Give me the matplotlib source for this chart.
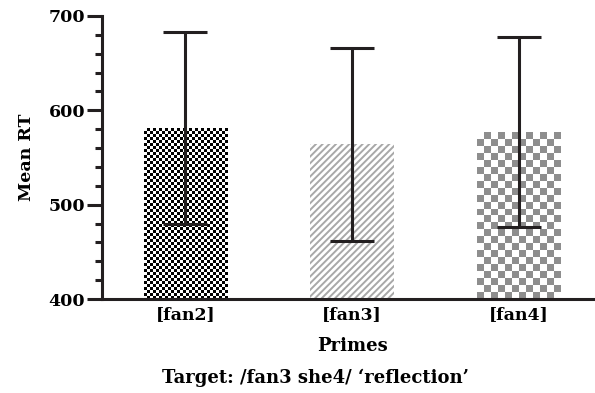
import numpy as np
import matplotlib
matplotlib.use('Agg')
import matplotlib.pyplot as plt
from matplotlib.ticker import MultipleLocator

## data
primes = ['[fan2]', '[fan3]', '[fan4]']
mean_rt = [581, 564, 577]
err = [102, 102, 101]

plt.rcParams['font.family'] = ['DejaVu Serif']
plt.rcParams['font.weight'] = 'bold'
plt.rcParams['hatch.linewidth'] = 1.4
dark = '#231f20'

fig = plt.figure(figsize=(5.95, 3.93), dpi=100)
ax = fig.add_axes([102/595, 94/393, 500/595, 283/393])

x = np.arange(len(primes))
bars = ax.bar(x, mean_rt, width=0.5, color='white', edgecolor='none', zorder=1)
ax.set_xlim(-0.5, 2.5)
ax.set_ylim(400, 700)
ybot = ax.get_ylim()[0]

## fill patterns: fine black checker, grey diagonal lines, coarse grey checker
fig.canvas.draw()
patterns = [('checker', 3.0, '#000000'), ('hatch', None, '#a8a8a8'), ('checker', 7.0, '#8e8e8e')]
for b, (kind, cell, col) in zip(bars, patterns):
    if kind == 'hatch':
        b.set_hatch('/////')
        b.set_edgecolor(col)
        b.set_linewidth(0)
        continue
    x0, w, top = b.get_x(), b.get_width(), b.get_height()
    p0 = ax.transData.transform((x0, ybot))
    p1 = ax.transData.transform((x0 + w, top))
    nx = max(1, int(round((p1[0] - p0[0]) / cell)))
    ny = max(1, int(round((p1[1] - p0[1]) / cell)))
    board = (np.add.outer(np.arange(ny), np.arange(nx)) % 2)
    img = np.ones((ny, nx, 3))
    img[board == 1] = matplotlib.colors.to_rgb(col)
    ax.imshow(img, extent=(x0, x0 + w, ybot, top),
              interpolation='nearest', aspect='auto', zorder=1.5)

ax.errorbar(x, mean_rt, yerr=err, fmt='none', ecolor=dark, elinewidth=2.2,
            capsize=15.5, capthick=2.2, zorder=3)

for s in ['top', 'right']:
    ax.spines[s].set_visible(False)
for s in ['left', 'bottom']:
    ax.spines[s].set_linewidth(2.2)
    ax.spines[s].set_color(dark)

ax.yaxis.set_major_locator(MultipleLocator(100))
ax.yaxis.set_minor_locator(MultipleLocator(20))
ax.tick_params(axis='y', which='major', length=11, width=2.2, color=dark,
               labelsize=12.5, pad=1)
ax.tick_params(axis='y', which='minor', length=5, width=2.2, color=dark)
ax.set_xticks(x)
ax.set_xticklabels(primes, fontsize=12.5, fontweight='bold')
ax.tick_params(axis='x', length=0, pad=5)

ax.set_ylabel('Mean RT', fontsize=12.5, fontweight='bold', labelpad=10)
ax.set_xlabel('Primes', fontsize=13, fontweight='bold', labelpad=10)
fig.text(0.53, 15/393, 'Target: /fan3 she4/ \u2018reflection\u2019', ha='center',
         va='center', fontsize=13, fontweight='bold')

fig.savefig('out.png', dpi=100)
